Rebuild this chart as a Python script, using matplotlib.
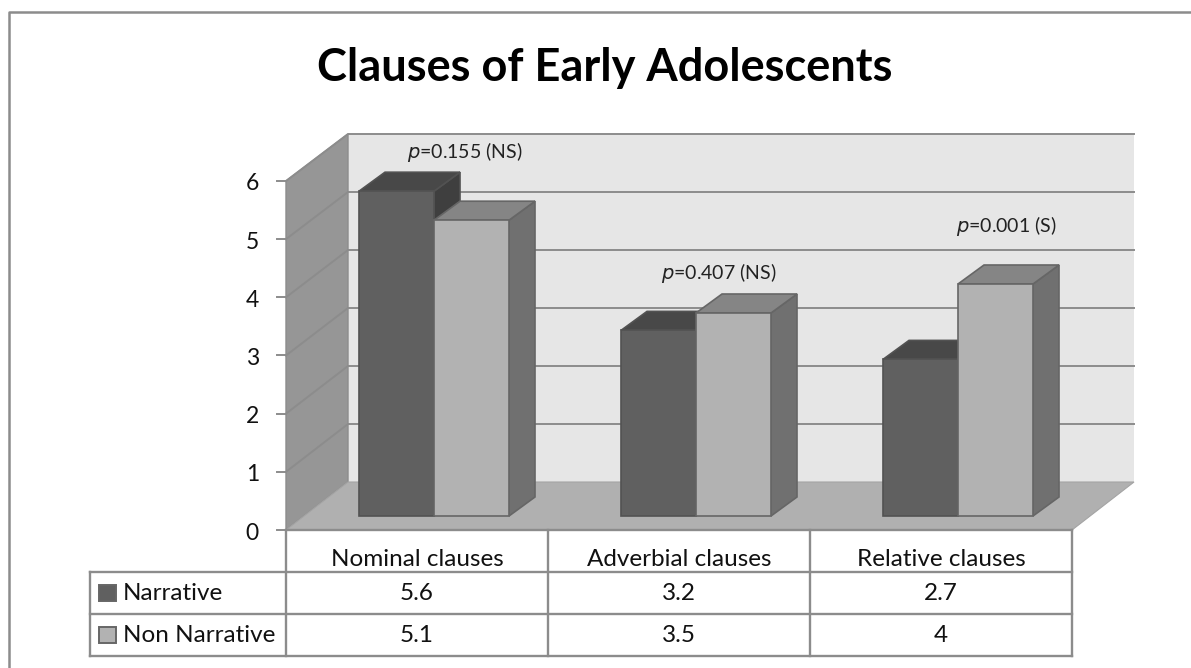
import matplotlib
matplotlib.use('Agg')
import matplotlib.pyplot as plt
from matplotlib.patches import Polygon

categories = ['Nominal clauses', 'Adverbial clauses', 'Relative clauses']
series_names = ['Narrative', 'Non Narrative']
narrative = [5.6, 3.2, 2.7]
non_narrative = [5.1, 3.5, 4]
narrative_labels = ['5.6', '3.2', '2.7']
non_narrative_labels = ['5.1', '3.5', '4']
p_values = ['0.155 (NS)', '0.407 (NS)', '0.001 (S)']
y_ticks = [0, 1, 2, 3, 4, 5, 6]

plt.rcParams['font.family'] = ['Lato', 'DejaVu Sans']

# the axes is in image pixels, y going down
fig = plt.figure(figsize=(11.91, 6.68), dpi=100)
ax = fig.add_axes([0, 0, 1, 1])
ax.set_xlim(0, 1191)
ax.set_ylim(668, 0)
ax.axis('off')

line = '#8c8c8c'
unit = 58.17
wall_unit = 58
front_x0, front_y0 = 286, 530
depth_x, depth_y = 62, 48
right_x = 1072


def poly(pts, face, edge=line, lw=1.2, z=1):
    ax.add_patch(Polygon(pts, closed=True, facecolor=face, edgecolor=edge, linewidth=lw, zorder=z))


def wall_y(v):
    return front_y0 - depth_y - v * wall_unit


def front_y(v):
    return front_y0 - v * unit


# frame
ax.plot([9, 9, 1191], [668, 12, 12], color=line, lw=1.8, zorder=0)

# walls and floor
top = y_ticks[-1]
bx0, bx1 = front_x0 + depth_x, right_x + depth_x
poly([(bx0, wall_y(0)), (bx0, wall_y(top)), (bx1, wall_y(top)), (bx1, wall_y(0))], '#e6e6e6', edge='none')
poly([(front_x0, front_y(0)), (front_x0, front_y(top)), (bx0, wall_y(top)), (bx0, wall_y(0))], '#969696', lw=1.0)
poly([(front_x0, front_y0), (bx0, wall_y(0)), (bx1, wall_y(0)), (right_x, front_y0)], '#b0b0b0', edge='#a4a4a4', lw=0.8, z=1.5)

for v in y_ticks:
    if v > 0:
        ax.plot([front_x0, bx0, bx1], [front_y(v), wall_y(v), wall_y(v)], color=line, lw=1.4, zorder=1.2)
    ax.plot([front_x0 - 9, front_x0], [front_y(v), front_y(v)], color=line, lw=1.4, zorder=1.2)
    ax.text(front_x0 - 27, front_y(v) + 3, str(v), ha='right', va='center', fontsize=16.5, color='#111111')

# bars
bar_base = 516
bar_unit = 58
bar_w = 75
group_x0 = 359
group_step = 262
bar_dx, bar_dy = 26, 19
# where the p labels sit, from the left of the group and from the top of the taller bar
label_dx = [106, 98, 123]
label_dy = [39, 40, 58]


def bar(x, v, front, side, topc, edge, z):
    y = bar_base - v * bar_unit
    x1 = x + bar_w
    poly([(x1, bar_base), (x1, y), (x1 + bar_dx, y - bar_dy), (x1 + bar_dx, bar_base - bar_dy)], side, edge=edge, z=z)
    poly([(x, y), (x + bar_dx, y - bar_dy), (x1 + bar_dx, y - bar_dy), (x1, y)], topc, edge=edge, z=z)
    poly([(x, bar_base), (x, y), (x1, y), (x1, bar_base)], front, edge=edge, z=z)


for i in range(len(categories)):
    x = group_x0 + group_step * i
    bar(x, narrative[i], '#606060', '#3f3f3f', '#484848', '#525252', 3)
    bar(x + bar_w, non_narrative[i], '#b2b2b2', '#707070', '#858585', '#666666', 4)
    high = max(narrative[i], non_narrative[i])
    ax.text(x + label_dx[i], bar_base - high * bar_unit - label_dy[i], '$\\mathit{p}$=' + p_values[i], ha='center', va='center',
            fontsize=14, color='#222222', math_fontfamily='dejavusans', zorder=5)

# data table
col_x = [right_x - 786 + 262 * k for k in range(4)]
row_y = [530, 572, 614, 656]
left_x = 90
for c in col_x:
    ax.plot([c, c], [row_y[0], row_y[3]], color=line, lw=1.7, zorder=2)
ax.plot([left_x, left_x], [row_y[1], row_y[3]], color=line, lw=1.7, zorder=2)
for r in row_y[1:]:
    ax.plot([left_x, col_x[3]], [r, r], color=line, lw=1.7, zorder=2)
ax.plot([col_x[0], col_x[3]], [row_y[0], row_y[0]], color=line, lw=1.7, zorder=2)

for i, name in enumerate(categories):
    cx = (col_x[i] + col_x[i + 1]) / 2
    ax.text(cx, 560, name, ha='center', va='center', fontsize=17.5, color='#111111')
    ax.text(cx, 593, narrative_labels[i], ha='center', va='center', fontsize=17.5, color='#111111')
    ax.text(cx, 635.5, non_narrative_labels[i], ha='center', va='center', fontsize=17.5, color='#111111')

swatches = ['#606060', '#b2b2b2']
for k, name in enumerate(series_names):
    yc = (row_y[k + 1] + row_y[k + 2]) / 2
    poly([(99, yc - 8), (116, yc - 8), (116, yc + 8), (99, yc + 8)], swatches[k], edge='#666666', lw=1.4, z=3)
    ax.text(123, yc, name, ha='left', va='center', fontsize=17.5, color='#111111')

ax.text(605, 68, 'Clauses of Early Adolescents', ha='center', va='center', fontsize=32.5, fontweight='bold', color='black')

fig.savefig('out.png', dpi=100)
